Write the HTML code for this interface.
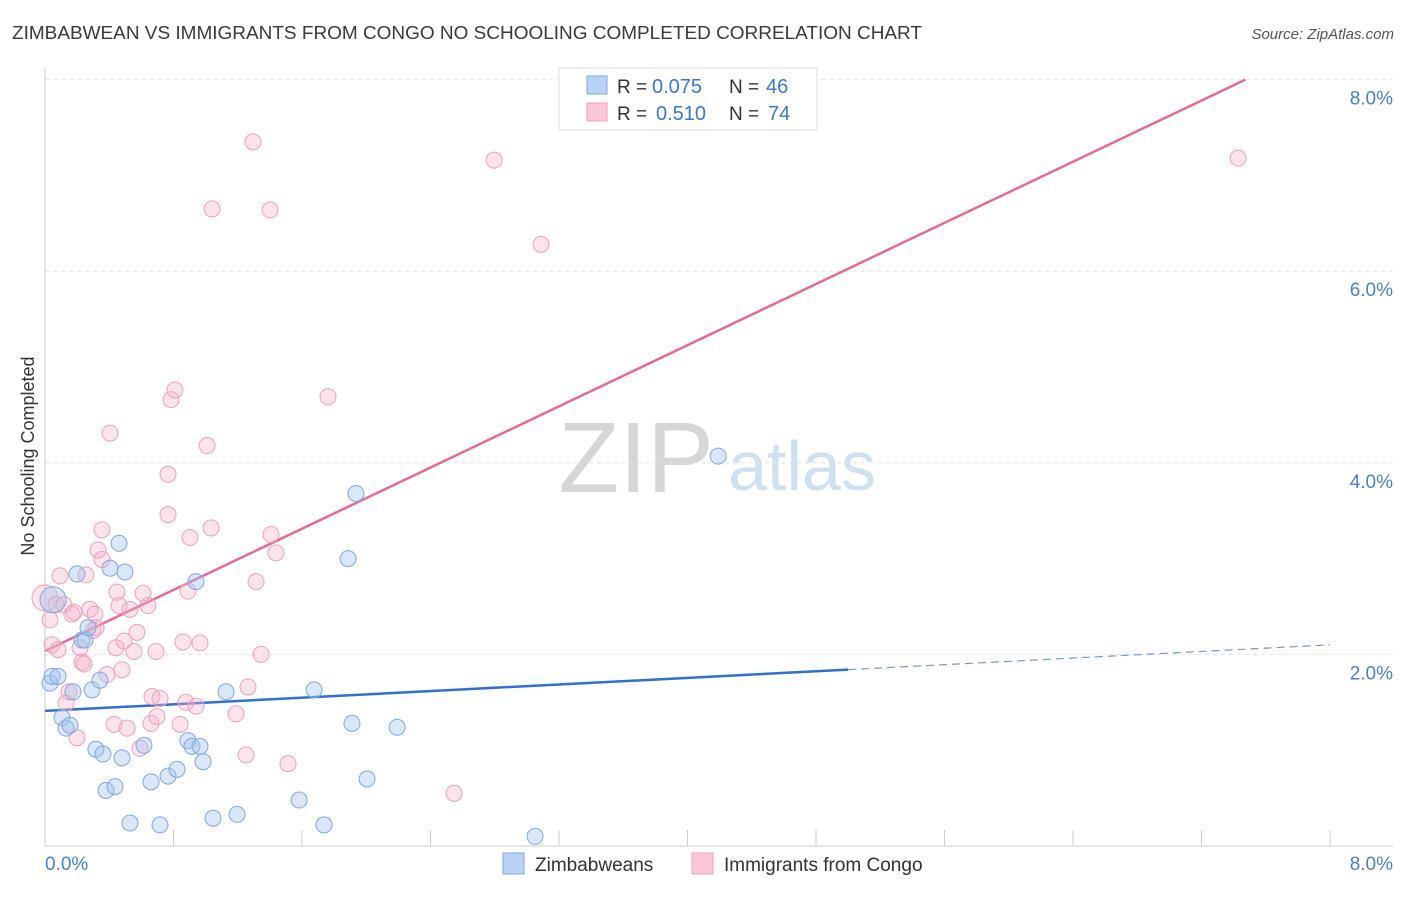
<!DOCTYPE html>
<html><head><meta charset="utf-8">
<style>
body{margin:0;background:#fff;font-family:"Liberation Sans",sans-serif;}
svg text{font-family:"Liberation Sans",sans-serif;}
</style></head>
<body>
<svg id="chart" width="1406" height="892" xmlns="http://www.w3.org/2000/svg">
<text x="12" y="39" font-size="18" fill="#3a3a3a" textLength="910" lengthAdjust="spacingAndGlyphs">ZIMBABWEAN VS IMMIGRANTS FROM CONGO NO SCHOOLING COMPLETED CORRELATION CHART</text>
<text x="1394" y="39" font-size="15" fill="#555" font-style="italic" text-anchor="end">Source: ZipAtlas.com</text>
<g>
<text x="636" y="492" font-size="100" fill="#d6d6d6" font-family="Liberation Serif,serif" text-anchor="middle">ZIP</text>
<text x="802" y="490" font-size="70" fill="#cfe0f5" text-anchor="middle">atlas</text>
</g>
<g id="grid"></g>
<g id="axes"></g>
<g id="lines"></g>
<g id="pts"></g>
<text transform="translate(34,456) rotate(-90)" font-size="18" fill="#333" text-anchor="middle">No Schooling Completed</text>
<g>
<rect x="559" y="68" width="258" height="62" fill="#fff" stroke="#ddd"/>
<rect x="587" y="76" width="20" height="18" fill="#b9d2f5" stroke="#7fa8e0"/>
<rect x="587" y="103" width="20" height="18" fill="#fbc7d6" stroke="#f0a0bb"/>
<text x="617" y="93" font-size="19" fill="#333">R =</text>
<text x="652" y="93" font-size="20" fill="#3a78d6">0.075</text>
<text x="729" y="93" font-size="19" fill="#333">N =</text>
<text x="766" y="93" font-size="20" fill="#3a78d6">46</text>
<text x="617" y="120" font-size="19" fill="#333">R =</text>
<text x="656" y="120" font-size="20" fill="#3a78d6">0.510</text>
<text x="729" y="120" font-size="19" fill="#333">N =</text>
<text x="768" y="120" font-size="20" fill="#3a78d6">74</text>
</g>
<g>
<rect x="503" y="853" width="21" height="21" fill="#b9d2f5" stroke="#7fa8e0"/>
<text x="535" y="871" font-size="19" fill="#333">Zimbabweans</text>
<rect x="692" y="853" width="21" height="21" fill="#fbc7d6" stroke="#f0a0bb"/>
<text x="724" y="871" font-size="19" fill="#333">Immigrants from Congo</text>
</g>
</svg>
<script>
const yTicks=[2,4,6,8];
const yTickLabels=["2.0%","4.0%","6.0%","8.0%"];
const xTickLabels=["0.0%","8.0%"];
const blueX=[.031,.044,.081,.050,.106,.131,.156,.174,.199,.230,.249,.268,.293,.317,.342,.361,.380,.405,.436,.461,.479,.498,.529,.616,.660,.716,.766,.822,.890,.915,.965,.984,.940,1.046,1.127,1.196,1.582,1.675,1.737,1.887,1.911,1.936,2.005,2.192,3.051,4.191];
const blueY=[1.70,1.77,1.77,2.57,1.34,1.23,1.26,1.61,2.84,2.15,2.15,2.28,1.63,1.01,1.73,.96,.58,2.90,.62,3.16,.92,2.86,.24,1.05,.67,.22,.73,.80,1.10,1.04,1.04,.88,2.76,.29,1.61,.33,.48,1.63,.22,3.00,1.28,3.68,.70,1.24,.10,4.07];
const pinkX=[0,.031,.044,.068,.081,.093,.118,.131,.149,.168,.181,.199,.218,.230,.243,.255,.280,.299,.311,.318,.330,.355,.355,.386,.405,.430,.442,.448,.461,.479,.492,.511,.529,.554,.573,.592,.610,.641,.660,.666,.691,.697,.716,.766,.766,.785,.809,.841,.859,.878,.890,.903,.940,.965,1.009,1.034,1.040,1.189,1.252,1.264,1.295,1.314,1.345,1.401,1.407,1.438,1.513,1.762,2.547,2.796,3.088,7.428];
const pinkY=[2.59,2.36,2.10,2.52,2.05,2.82,2.52,1.49,1.61,2.42,2.44,1.13,2.07,1.92,1.90,2.83,2.47,2.25,2.42,2.28,3.09,3.30,2.99,1.79,4.31,1.27,2.07,2.65,2.51,1.84,2.14,1.23,2.47,2.03,2.23,1.02,2.64,2.51,1.28,1.56,2.03,1.35,1.54,3.46,3.88,4.66,4.76,1.27,2.13,1.50,2.66,3.22,1.46,2.12,4.18,3.32,6.65,1.38,.95,1.66,7.35,2.76,2.00,6.64,3.25,3.06,.86,4.69,.55,7.16,6.28,7.18];
const blueTrend=[1.41,2.10];
const pinkTrend=[2.035,8.42];
const NS="http://www.w3.org/2000/svg";
const X=v=>45+v/8*1285, Y=v=>846-v*95.8;
function mk(t,a,p){const e=document.createElementNS(NS,t);for(const k in a)e.setAttribute(k,a[k]);p.appendChild(e);return e;}
const grid=document.getElementById('grid'),axes=document.getElementById('axes');
yTicks.forEach((t,i)=>{
 const l=mk('line',{x1:45,x2:1393,y1:Y(t),y2:Y(t),stroke:'#e2e2e2','stroke-dasharray':'4,4'},grid);
 
 
 const tx=mk('text',{x:1393,y:Y(t)+25,'font-size':19,fill:'#4a7fd4','text-anchor':'end'},axes);
 tx.textContent=yTickLabels[i];
 
 
});
mk('line',{x1:45,x2:45,y1:68,y2:846,stroke:'#ccc'},axes);
mk('line',{x1:45,x2:1393,y1:846,y2:846,stroke:'#ccc'},axes);
for(let i=1;i<=10;i++){const t=mk('line',{x1:X(i*0.8),x2:X(i*0.8),y1:830,y2:846,stroke:'#ccc'},axes);
 
 }
[[0,45,'start'],[8,1393,'end']].forEach((d,i)=>{const t=mk('text',{x:d[1],y:870,'font-size':19,fill:'#4a7fd4','text-anchor':d[2]},axes);t.textContent=xTickLabels[i];
 
 });
const pts=document.getElementById('pts');
function dots(xs,ys,fill,stroke,name){xs.forEach((x,i)=>{const r=(x===0||i===3&&name==='blue-point')?13:8;
 const c=mk('circle',{cx:X(x),cy:Y(ys[i]),r:r,fill:fill,stroke:stroke,'stroke-width':1},pts);
 
 });}
dots(pinkX,pinkY,'rgba(248,175,200,0.35)','#f0a0bb','congo-point');
dots(blueX,blueY,'rgba(160,195,240,0.4)','#7fa8e0','blue-point');
const lines=document.getElementById('lines');
const bx=5.0, by=blueTrend[0]+(blueTrend[1]-blueTrend[0])*bx/8;
let l=mk('line',{x1:X(0),y1:Y(blueTrend[0]),x2:X(bx),y2:Y(by),stroke:'#2f6fd6','stroke-width':2.5},lines);


l=mk('line',{x1:X(bx),y1:Y(by),x2:X(8),y2:Y(blueTrend[1]),stroke:'#6f9be0','stroke-width':1.2,'stroke-dasharray':'8,5'},lines);


const px=(8-pinkTrend[0])/(pinkTrend[1]-pinkTrend[0])*8;
l=mk('line',{x1:X(0),y1:Y(pinkTrend[0]),x2:X(px),y2:Y(8),stroke:'#e8689a','stroke-width':2.5},lines);


</script>
</body></html>
